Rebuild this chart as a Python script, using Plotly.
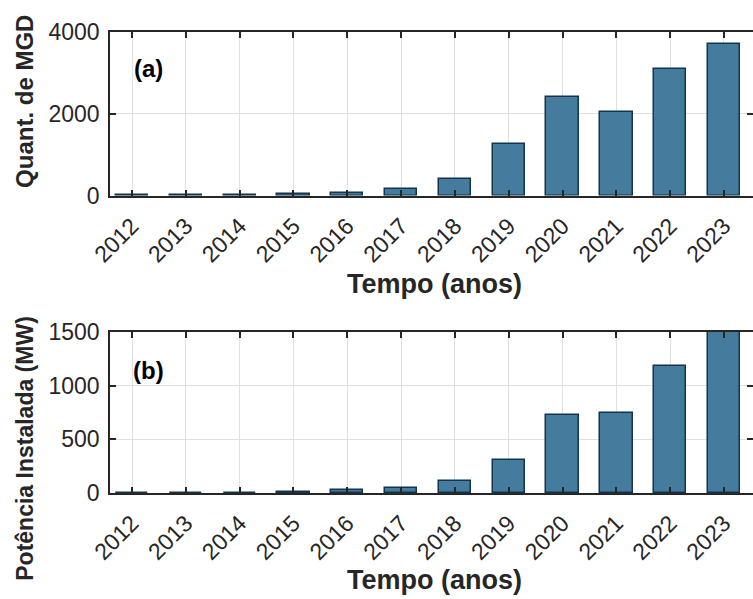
import plotly.graph_objects as go

years = [2012, 2013, 2014, 2015, 2016, 2017, 2018, 2019, 2020, 2021, 2022, 2023]
qtd_mgd = [3, 5, 15, 30, 70, 160, 410, 1250, 2400, 2050, 3100, 3700]
potencia_mw = [1, 2, 3, 10, 24, 50, 112, 310, 723, 745, 1180, 1500]

x_title = "Tempo (anos)"
y_title_a = "Quant. de MGD"
y_title_b = "Potência Instalada (MW)"

FILL = "#457b9d"
EDGE = "#12344d"
AX = "#262626"
GRID = "#e0e0e0"
FONT = "Liberation Sans, Arial, Helvetica, sans-serif"

fig = go.Figure()
fig.add_trace(go.Bar(x=years, y=qtd_mgd, width=0.6, marker=dict(color=FILL, line=dict(color=EDGE, width=1.5)),
                     xaxis="x", yaxis="y"))
fig.add_trace(go.Bar(x=years, y=potencia_mw, width=0.6, marker=dict(color=FILL, line=dict(color=EDGE, width=1.5)),
                     xaxis="x2", yaxis="y2"))

xcommon = dict(range=[2011.591, 2023.539], tickmode="array", tickvals=years, ticktext=[str(y) for y in years],
               tickangle=-45, ticks="inside", ticklen=6, tickwidth=1.5, tickcolor=AX,
               showline=True, linecolor=AX, linewidth=1.5, mirror="ticks",
               showgrid=True, gridcolor=GRID, gridwidth=1, zeroline=False, automargin=False,
               ticklabelstandoff=6,
               tickfont=dict(family=FONT, size=23, color=AX))
ycommon = dict(ticks="inside", ticklen=6, tickwidth=1.5, tickcolor=AX,
               showline=True, linecolor=AX, linewidth=1.5, mirror="ticks",
               showgrid=True, gridcolor=GRID, gridwidth=1, zeroline=False, automargin=False,
               ticklabelstandoff=4,
               tickfont=dict(family=FONT, size=23, color=AX))

fig.update_layout(
    width=753, height=599,
    margin=dict(l=110, r=0, t=32, b=105.7, autoexpand=False),
    plot_bgcolor="white", paper_bgcolor="white",
    showlegend=False,
    bargap=0,
    xaxis=dict(domain=[0, 1], anchor="y", **xcommon),
    yaxis=dict(domain=[0.6451, 1], anchor="x", range=[0, 4000], tickvals=[0, 2000, 4000], **ycommon),
    xaxis2=dict(domain=[0, 1], anchor="y2", **xcommon),
    yaxis2=dict(domain=[0, 0.349], anchor="x2", range=[0, 1500], tickvals=[0, 500, 1000, 1500], **ycommon),
    annotations=[
        dict(text="<b>%s</b>" % x_title, xref="paper", yref="paper", x=0.504, y=0.4539, showarrow=False,
             font=dict(family=FONT, size=27, color=AX), xanchor="center", yanchor="middle"),
        dict(text="<b>%s</b>" % x_title, xref="paper", yref="paper", x=0.504, y=-0.1879, showarrow=False,
             font=dict(family=FONT, size=27, color=AX), xanchor="center", yanchor="middle"),
        dict(text="<b>%s</b>" % y_title_a, xref="paper", yref="paper", x=-0.1322, y=0.8505, showarrow=False,
             textangle=-90, font=dict(family=FONT, size=24, color=AX), xanchor="center", yanchor="middle"),
        dict(text="<b>%s</b>" % y_title_b, xref="paper", yref="paper", x=-0.1322, y=0.0982, showarrow=False,
             textangle=-90, font=dict(family=FONT, size=23, color=AX), xanchor="center", yanchor="middle"),
        dict(text="<b>(a)</b>", xref="paper", yref="paper", x=0.0591, y=0.9198, showarrow=False,
             font=dict(family=FONT, size=24, color="black"), xanchor="center", yanchor="middle"),
        dict(text="<b>(b)</b>", xref="paper", yref="paper", x=0.0591, y=0.2654, showarrow=False,
             font=dict(family=FONT, size=24, color="black"), xanchor="center", yanchor="middle"),
    ],
)

fig.write_html("out.html", config={"displayModeBar": False},
               post_script="document.body.style.margin='0';document.body.style.overflow='hidden';")
